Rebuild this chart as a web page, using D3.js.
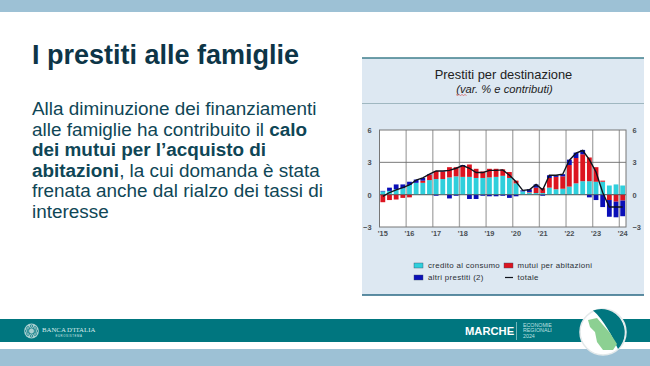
<!DOCTYPE html>
<html lang="it"><head><meta charset="utf-8">
<script src="https://cdn.jsdelivr.net/npm/d3@7"></script>
<style>
html,body{margin:0;padding:0;background:#fff;overflow:hidden}
svg{display:block}
text{font-family:"Liberation Sans",Arial,sans-serif}
</style></head><body><svg id="c" width="650" height="366"></svg>
<script>
const pageTitle = "I prestiti alle famiglie";
const chartTitle = "Prestiti per destinazione";
const chartSubtitle = "(var. % e contributi)";
const yearLabels = ["'15","'16","'17","'18","'19","'20","'21","'22","'23","'24"];
const yTicks = [-3,0,3,6];
const quarters = ["15Q1","15Q2","15Q3","15Q4","16Q1","16Q2","16Q3","16Q4","17Q1","17Q2","17Q3","17Q4","18Q1","18Q2","18Q3","18Q4","19Q1","19Q2","19Q3","19Q4","20Q1","20Q2","20Q3","20Q4","21Q1","21Q2","21Q3","21Q4","22Q1","22Q2","22Q3","22Q4","23Q1","23Q2","23Q3","23Q4","24Q1"];
const credito = [0.30,0.35,0.50,0.60,0.90,1.10,1.10,1.35,1.45,1.45,1.60,1.70,1.65,1.65,1.55,1.55,1.60,1.65,1.75,1.55,1.05,0.30,0.20,0.15,0.15,0.65,0.50,0.55,0.75,1.05,1.25,1.25,1.20,1.20,0.85,0.95,0.85];
const mutui = [-0.70,-0.50,-0.45,-0.30,-0.25,0.00,0.20,0.50,0.75,0.70,0.95,0.85,1.00,1.15,0.85,0.60,0.80,0.75,0.60,0.55,0.25,0.00,0.05,0.50,0.45,0.90,1.15,1.15,2.00,2.35,2.50,2.20,1.35,0.10,-0.50,-0.65,-0.55];
const altri = [0.05,0.30,0.45,0.35,0.30,0.30,0.25,0.05,-0.10,0.03,-0.35,-0.10,0.10,-0.40,-0.40,-0.10,-0.15,-0.15,-0.10,-0.30,-0.15,0.10,0.25,0.30,-0.10,0.25,0.15,0.20,0.50,0.50,0.40,-0.25,-0.50,-1.15,-1.55,-1.45,-1.45];
const totale = [-0.15,0.20,0.45,0.65,0.90,1.35,1.55,1.90,2.20,2.20,2.25,2.45,2.70,2.45,2.05,2.05,2.25,2.25,2.30,1.80,1.20,0.40,0.45,0.95,0.45,1.80,1.80,1.90,3.20,3.85,4.10,3.25,2.10,0.20,-1.15,-1.15,-1.15];
const legendRows = [["credito al consumo","mutui per abitazioni"],["altri prestiti (2)","totale"]];
const seriesColors = {credito:"#2fcfdc",mutui:"#dc1420",altri:"#0a0fb8",totale:"#10131c"};

const svg = d3.select("#c");
const dark="#0d3547", teal="#00767f", band="#9dc1d5";

// slide frame
svg.append("rect").attr("width",650).attr("height",12).attr("fill",band);
svg.append("rect").attr("y",349).attr("width",650).attr("height",17).attr("fill",band);
svg.append("rect").attr("y",319).attr("width",650).attr("height",23).attr("fill",teal);

// slide text
svg.append("text").attr("x",32).attr("y",64).attr("font-size",27).attr("font-weight",700).attr("fill",dark).text(pageTitle);
const body=[
 [["Alla diminuzione dei finanziamenti",0]],
 [["alle famiglie ha contribuito il ",0],["calo",1]],
 [["dei mutui per l\u2019acquisto di",1]],
 [["abitazioni",1],[", la cui domanda \u00e8 stata",0]],
 [["frenata anche dal rialzo dei tassi di",0]],
 [["interesse",0]]];
body.forEach((ln,i)=>{
  const t=svg.append("text").attr("x",32).attr("y",115+i*20.6).attr("font-size",18.9).attr("fill","#0f4656");
  ln.forEach(([s,b])=>t.append("tspan").attr("font-weight",b?700:400).text(s));
});

// chart panel
svg.append("rect").attr("x",362).attr("y",58).attr("width",282).attr("height",237).attr("fill","#dde8f2");
svg.append("line").attr("x1",362).attr("x2",644).attr("y1",58).attr("y2",58).attr("stroke","#3f7f8c").attr("stroke-width",1.4);
svg.append("line").attr("x1",362).attr("x2",644).attr("y1",103.5).attr("y2",103.5).attr("stroke","#8fa9b2").attr("stroke-width",0.8);
svg.append("line").attr("x1",362).attr("x2",644).attr("y1",295).attr("y2",295).attr("stroke","#2a6a85").attr("stroke-width",1.4);
svg.append("text").attr("x",503.5).attr("y",78.5).attr("text-anchor","middle").attr("font-size",12.9).attr("fill","#222").text(chartTitle);
svg.append("text").attr("x",504.5).attr("y",93).attr("text-anchor","middle").attr("font-size",11.2).attr("font-style","italic").attr("fill","#222").text(chartSubtitle);
svg.append("path").attr("d","M456 94.5l1.5 1 1.5-1 1.5 1 1.5-1 1.5 1 1.5-1 1.5 1").attr("fill","none").attr("stroke","#d04040").attr("stroke-width",0.6);

// plot
const L=379.5,R=626,T=130,B=227;
const x=d3.scaleBand().domain(quarters).range([L,R]).paddingInner(0.28).paddingOuter(0.14);
const step=(R-L)/quarters.length;
const y=d3.scaleLinear().domain([-3,6]).range([B,T]);
const g=svg.append("g");
g.append("rect").attr("x",L).attr("y",T).attr("width",R-L).attr("height",B-T).attr("fill","#fff");

// grid
const firstQ=quarters.filter(q=>q.endsWith("Q1"));
const qStart=q=>L+quarters.indexOf(q)*step;
g.selectAll("line.v").data(firstQ.slice(1)).join("line").attr("class","v")
 .attr("x1",qStart).attr("x2",qStart).attr("y1",T).attr("y2",B).attr("stroke","#a9a9a9").attr("stroke-width",1.3);
g.selectAll("line.h").data([3,0]).join("line").attr("class","h")
 .attr("x1",L).attr("x2",R).attr("y1",y).attr("y2",y).attr("stroke","#6a6a6a").attr("stroke-width",0.9);

// bars: stacked separately above and below zero
const rows=quarters.map((q,i)=>({q,credito:credito[i],mutui:mutui[i],altri:altri[i]}));
const stack=d3.stack().keys(["credito","mutui","altri"]).offset(d3.stackOffsetDiverging)(rows);
g.selectAll("g.s").data(stack).join("g").attr("class","s").attr("fill",d=>seriesColors[d.key])
 .selectAll("rect").data(d=>d).join("rect")
 .attr("x",d=>x(d.data.q)).attr("width",x.bandwidth())
 .attr("y",d=>y(Math.max(d[0],d[1]))).attr("height",d=>Math.abs(y(d[0])-y(d[1])));

// zero line above bars, then total
g.append("line").attr("x1",L).attr("x2",R).attr("y1",y(0)).attr("y2",y(0)).attr("stroke","#555").attr("stroke-width",0.7);
g.append("path").datum(totale)
 .attr("d",d3.line().x((d,i)=>x(quarters[i])+x.bandwidth()/2).y(d=>y(d)))
 .attr("fill","none").attr("stroke",seriesColors.totale).attr("stroke-width",1.4);

// frame + axes
g.append("rect").attr("x",L).attr("y",T).attr("width",R-L).attr("height",B-T).attr("fill","none").attr("stroke","#777").attr("stroke-width",1);
const styleAxis=a=>{a.select(".domain").remove();a.selectAll(".tick line").remove();
  a.selectAll("text").attr("font-size",7.4).attr("font-weight",700).attr("fill","#4a4f54").attr("font-family","'Liberation Sans',Arial,sans-serif");};
svg.append("g").attr("transform",`translate(${L-8},0)`).call(d3.axisLeft(y).tickValues(yTicks).tickFormat(d3.format("d")).tickSize(0).tickPadding(0)).call(styleAxis);
svg.append("g").attr("transform",`translate(${R+6.5},0)`).call(d3.axisRight(y).tickValues(yTicks).tickFormat(d3.format("d")).tickSize(0).tickPadding(0)).call(styleAxis);
const xAxis=d3.axisBottom(x).tickValues(firstQ).tickFormat(q=>yearLabels[firstQ.indexOf(q)]).tickSize(0).tickPadding(0);
svg.append("g").attr("transform",`translate(0,${B+3.5})`).call(xAxis).call(styleAxis);

// legend
const lg=svg.append("g");
const lx=[414,504], ly=[265.5,277.5];
const legendKeys=[["credito","mutui"],["altri","totale"]];
legendRows.forEach((row,r)=>row.forEach((label,c)=>{
  const k=legendKeys[r][c];
  if(k==="totale"){
    lg.append("line").attr("x1",lx[c]+1).attr("x2",lx[c]+9).attr("y1",ly[r]).attr("y2",ly[r]).attr("stroke",seriesColors.totale).attr("stroke-width",1.2);
  } else {
    lg.append("rect").attr("x",lx[c]).attr("y",ly[r]-2.5).attr("width",9).attr("height",5).attr("fill",seriesColors[k]).attr("stroke","#3a4a66").attr("stroke-width",0.4);
  }
  lg.append("text").attr("x",lx[c]+(c?13.5:14)).attr("y",ly[r]+2.8).attr("font-size",7.9).attr("letter-spacing",0.32).attr("font-weight",400).attr("fill","#2a2f35").text(label);
}));

// footer left: logo
const logo=svg.append("g").attr("transform","translate(31.5,331)");
logo.append("circle").attr("r",7.4).attr("fill","#a9cfd0");
[[0,0,3],[-3.5,-3,1.4],[3.5,-3,1.4],[-3.5,3,1.4],[3.5,3,1.4],[0,-5,1.2],[0,5,1.2],[-5,0,1.2],[5,0,1.2]].forEach(([a,b,r])=>
  logo.append("circle").attr("cx",a).attr("cy",b).attr("r",r).attr("fill","none").attr("stroke",teal).attr("stroke-width",0.7));
svg.append("text").attr("x",42).attr("y",331.5).attr("font-size",6.8).attr("fill","#d8ecec").attr("style","font-family:'Liberation Serif',serif").text("BANCA D'ITALIA");
svg.append("text").attr("x",69).attr("y",336.5).attr("text-anchor","middle").attr("font-size",2.8).attr("letter-spacing",0.6).attr("fill","#d8ecec").text("EUROSISTEMA");

// footer right
svg.append("text").attr("x",465).attr("y",334.5).attr("font-size",11.2).attr("font-weight",700).attr("fill","#fff").text("MARCHE");
svg.append("line").attr("x1",516.5).attr("x2",516.5).attr("y1",322).attr("y2",340).attr("stroke","#bfe0e0").attr("stroke-width",0.6);
["ECONOMIE","REGIONALI","2024"].forEach((s,i)=>svg.append("text").attr("x",523).attr("y",327+i*5.3).attr("font-size",5.3).attr("fill","#bfe0e0").text(s));
svg.append("circle").attr("cx",603).attr("cy",332).attr("r",23).attr("fill","#fff").attr("stroke","#e3e9ea").attr("stroke-width",1.5);
svg.append("path").attr("d","M593 310.5 A23.5 23.5 0 0 1 618 349 C612 336 604 320 593 310.5 Z").attr("fill",teal);
svg.append("path").attr("d","M588 320 L597 318 L603 325 L610 333 L617 344 L613 350 L603 350 L597 342 L595 332 L590 327 Z").attr("fill","#8cd092");
</script></body></html>
